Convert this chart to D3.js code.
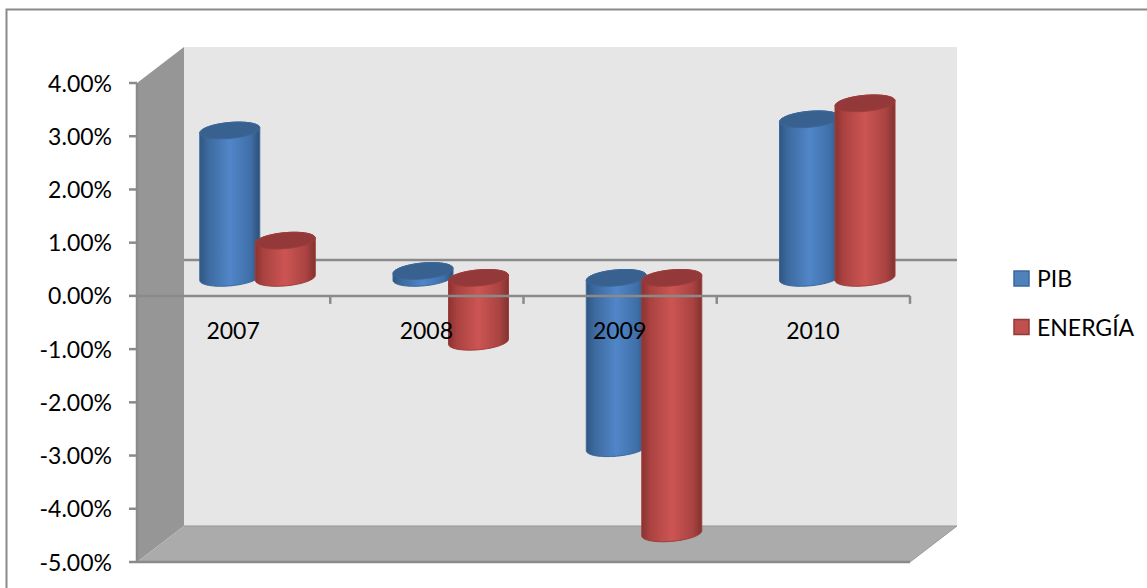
<!DOCTYPE html>
<html><head><meta charset="utf-8">
<script src="https://cdn.jsdelivr.net/npm/d3@7"></script>
<style>html,body{margin:0;padding:0;background:#fff}svg{display:block}text{font-family:Lato,"Open Sans",sans-serif;fill:#000}</style>
</head><body><svg id="c" width="1147" height="588"></svg>
<script>
const categories = ["2007","2008","2009","2010"];
const pib = [2.77, 0.13, -3.2, 2.98];
const energia = [0.7, -1.2, -4.8, 3.28];
const yTicks = [4,3,2,1,0,-1,-2,-3,-4,-5];
const seriesNames = ["PIB","ENERGÍA"];

const svg = d3.select("#c");
const y = d3.scaleLinear().domain([-5,4]).range([562,83]);
const x = d3.scaleBand().domain(categories).range([137,910]);
const dx = 47, dy = -36;
const grey = "#8a8a8a";

const defs = svg.append("defs");
function grad(id, stops){
  const g = defs.append("linearGradient").attr("id",id).attr("x1",0).attr("x2",1).attr("y1",0).attr("y2",0);
  stops.forEach(s=>g.append("stop").attr("offset",s[0]).attr("stop-color",s[1]));
}
grad("gB",[[0,"#2f5680"],[.14,"#3d6a9f"],[.5,"#5086c8"],[.85,"#3f6fa8"],[1,"#2e5074"]]);
grad("gR",[[0,"#8a3331"],[.14,"#aa4240"],[.5,"#cc5553"],[.85,"#a94341"],[1,"#823230"]]);

svg.append("path").attr("d",d3.line()([[6.5,588],[6.5,9.5],[1147,9.5]])).attr("fill","none").attr("stroke",grey).attr("stroke-width",2);

const poly = (pts,fill)=>svg.append("path").attr("d",d3.line()(pts)+"Z").attr("fill",fill);
const xL = x.range()[0], xR = x.range()[1], yT = y(4), yB = y(-5), y0 = y(0);
poly([[xL+dx,yT+dy],[xR+dx,yT+dy],[xR+dx,yB+dy],[xL+dx,yB+dy]],"#e6e6e6");
poly([[xL,yT],[xL+dx,yT+dy],[xL+dx,yB+dy],[xL,yB]],"#969696");
poly([[xL,yB],[xL+dx,yB+dy],[xR+dx,yB+dy],[xR,yB]],"#ababab");
svg.append("path").attr("d",d3.line()([[xL+dx,yB+dy],[xR+dx,yB+dy],[xR,yB]])).attr("fill","none").attr("stroke","#999").attr("stroke-width",1);
// back-wall zero line
svg.append("line").attr("x1",xL+dx).attr("x2",xR+dx).attr("y1",y0+dy).attr("y2",y0+dy).attr("stroke",grey).attr("stroke-width",2.5);

// cylinders
const bw = 60, step = 55.5, rx = bw/2, ry = 8, tilt = -0.085;
function ellipsePt(cx,cy,t){
  const ex = rx*Math.cos(t), ey = ry*Math.sin(t);
  return [cx+ex, cy+ey+ex*tilt];
}
function ring(cx,cy,a,b){
  const n=40, out=[];
  for(let i=0;i<=n;i++) out.push(ellipsePt(cx,cy,a+(b-a)*i/n));
  return out;
}
function cyl(cx,v,gid,edge,topFill){
  const yz = y(0)+dy/2, yv = y(v)+dy/2;
  const top = Math.min(yz,yv), bot = Math.max(yz,yv);
  const body = ring(cx,top,Math.PI,2*Math.PI).concat(ring(cx,bot,0,Math.PI));
  const g = svg.append("g");
  g.append("path").attr("d",d3.line()(body)+"Z").attr("fill",`url(#${gid})`).attr("stroke",edge).attr("stroke-width",1);
  g.append("path").attr("d",d3.line()(ring(cx,top,0,2*Math.PI))+"Z").attr("fill",topFill).attr("stroke",edge).attr("stroke-width",1);
}
categories.forEach((c,i)=>{
  const cx = x(c)+x.bandwidth()/2+dx/2+0.4;
  cyl(cx-step/2,pib[i],"gB","#3a689c","#39618f");
  cyl(cx+step/2,energia[i],"gR","#a03c3a","#93393a");
});

// front axes
const ax = svg.append("g").attr("stroke",grey).attr("stroke-width",2.5).attr("fill","none");
ax.append("line").attr("x1",xL).attr("x2",xR).attr("y1",y0).attr("y2",y0);
ax.append("line").attr("x1",xL).attr("x2",xR).attr("y1",yB).attr("y2",yB);
ax.append("line").attr("x1",xL).attr("x2",xL).attr("y1",yT).attr("y2",yB);
const fmt = t => t.toFixed(2) + "%";
yTicks.forEach(t=>{
  ax.append("line").attr("x1",xL-8).attr("x2",xL).attr("y1",y(t)).attr("y2",y(t));
  svg.append("text").attr("x",112).attr("y",y(t)+8.5).attr("text-anchor","end").attr("font-size",23).text(fmt(t));
});
categories.forEach(c=>{
  const xr = x(c)+x.bandwidth();
  ax.append("line").attr("x1",xr).attr("x2",xr).attr("y1",y0).attr("y2",y0+8);
  svg.append("text").attr("x",x(c)+x.bandwidth()/2-0.5).attr("y",338.5).attr("text-anchor","middle").attr("font-size",23).text(c);
});

// legend
const legY = d3.scaleOrdinal().domain(seriesNames).range([278.5,327]);
const legF = d3.scaleOrdinal().domain(seriesNames).range(["#4f81bd","#c0504d"]);
const legE = d3.scaleOrdinal().domain(seriesNames).range(["#3a689c","#8f3b39"]);
seriesNames.forEach(s=>{
  svg.append("rect").attr("x",1014).attr("y",legY(s)-7.5).attr("width",15).attr("height",15).attr("fill",legF(s)).attr("stroke",legE(s)).attr("stroke-width",1.5);
  svg.append("text").attr("x",1037).attr("y",legY(s)+8.5).attr("font-size",23).text(s);
});
</script></body></html>
